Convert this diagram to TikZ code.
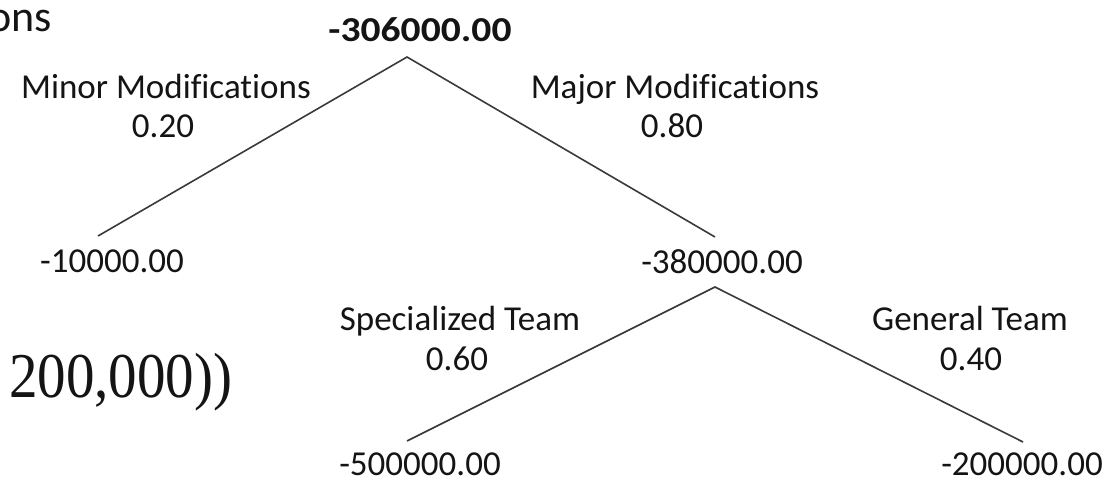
\documentclass[tikz,border=0pt]{standalone}
\usepackage{fontspec}
\newfontfamily\labelfont[Ligatures=NoCommon]{Carlito}
\newfontfamily\eqfont{Liberation Serif}
\definecolor{inkblack}{HTML}{141414}
\definecolor{linegray}{HTML}{3A3A3A}
\begin{document}
\begin{tikzpicture}[x=1pt,y=-1pt,
  value/.style={font=\labelfont\fontsize{35}{42}\selectfont, text=inkblack, inner sep=0pt, text depth=0pt, anchor=base},
  branch/.style={draw=linegray, line width=1.6pt}]
\useasboundingbox (0,0) rectangle (1110,481);
\clip (0,0) rectangle (1110,481);
\fill[white] (0,0) rectangle (1110,481);

% fragments of the surrounding document text
\node[anchor=base east, inner sep=0pt, text=inkblack,
      font=\labelfont\fontsize{44}{50}\selectfont] (head) at (52,32) {ons};
\node[anchor=base west, inner sep=0pt, text=inkblack,
      font=\eqfont\fontsize{57}{60}\selectfont] (eq) at (9,397) {\scalebox{1}[1.12]{200,000))}};

% decision tree values and branch labels
\node[value, font=\labelfont\bfseries\fontsize{35}{42}\selectfont] (root) at (420,42) {\scalebox{1.13}[1]{-306000.00}};
\node[value] (minorlbl) at (166,99) {Minor Modifications};
\node[value] (minorp) at (163,138) {0.20};
\node[value] (majorlbl) at (675,99) {Major Modifications};
\node[value] (majorp) at (672,138) {0.80};
\node[value] (minorv) at (112,272) {-10000.00};
\node[value] (majorv) at (722,273) {-380000.00};
\node[value] (speclbl) at (460,330) {Specialized Team};
\node[value] (specp) at (457,370) {0.60};
\node[value] (genlbl) at (970,330) {General Team};
\node[value] (genp) at (971,370) {0.40};
\node[value] (specv) at (420,475) {-500000.00};
\node[value] (genv) at (1022,475) {-200000.00};

% branch end points
\coordinate (top) at (407,57);
\coordinate (minorend) at (98,236);
\coordinate (majorend) at (715,237);
\coordinate (mid) at (715,287);
\coordinate (specend) at (407,441);
\coordinate (genend) at (1023,442);

\draw[branch] (minorend) -- (top) -- (majorend);
\draw[branch] (specend) -- (mid) -- (genend);
\end{tikzpicture}
\end{document}
